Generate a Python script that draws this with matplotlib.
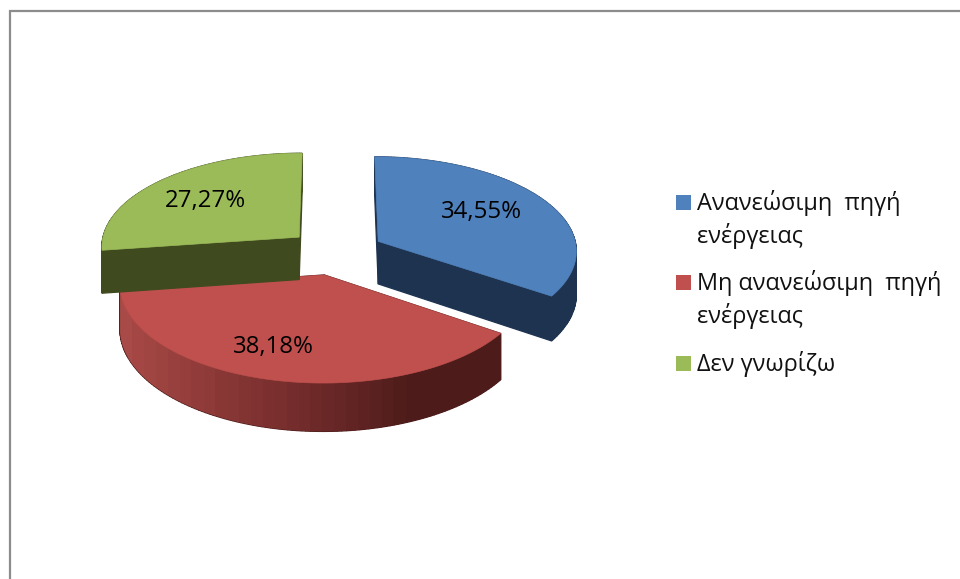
import numpy as np
import matplotlib
matplotlib.use("Agg")
import matplotlib.pyplot as plt
from matplotlib.patches import Polygon, Rectangle, PathPatch
from matplotlib.path import Path
from matplotlib.colors import LinearSegmentedColormap

categories = ["Ανανεώσιμη  πηγή\nενέργειας", "Μη ανανεώσιμη  πηγή\nενέργειας", "Δεν γνωρίζω"]
values = [34.55, 38.18, 27.27]
value_labels = ["34,55%", "38,18%", "27,27%"]
top_colors = ["#4f81bd", "#c0504d", "#9bbb59"]
wall_colors = ["#1d3350", "#4d1c1a", "#404a1f"]

CX, CY, RX, RY, K, DEPTH, EXPLODE = 335.5, 252, 199, 94, 0.09, 43, 0.245
plt.rcParams["font.family"] = ["Open Sans", "DejaVu Sans"]

fig = plt.figure(figsize=(9.6, 5.79), dpi=100)
ax = fig.add_axes([0, 0, 1, 1])
ax.set_xlim(0, 960)
ax.set_ylim(579, 0)
ax.axis("off")

frame = Polygon([(9.5, 579), (9.5, 10.5), (960, 10.5)], closed=False, fill=False,
                ec="#8c8c8c", lw=1.6)
ax.add_patch(frame)

def project(u, v, z=0.0):
    s = 1 / (1 + K * v)
    return CX + RX * u * s, CY - RY * v * s + z * DEPTH * s

edges = np.cumsum([0] + values) / sum(values) * 2 * np.pi

def wedge(i):
    a0, a1 = edges[i], edges[i + 1]
    mid = (a0 + a1) / 2
    ou, ov = EXPLODE * np.sin(mid), EXPLODE * np.cos(mid)
    t = np.linspace(a0, a1, 120)
    return ou, ov, ou + np.sin(t), ov + np.cos(t)

def draw_wedge(i, zorder):
    ou, ov, u, v = wedge(i)
    au = np.r_[ou, u, ou]
    av = np.r_[ov, v, ov]
    for j in range(len(au) - 1):
        x0, y0 = project(au[j], av[j])
        x1, y1 = project(au[j + 1], av[j + 1])
        x2, y2 = project(au[j + 1], av[j + 1], 1)
        x3, y3 = project(au[j], av[j], 1)
        ax.add_patch(Polygon([(x0, y0), (x1, y1), (x2, y2), (x3, y3)], fc=wall_colors[i],
                             ec=wall_colors[i], lw=0.9, zorder=zorder))
    if i == 1:
        xt, yt = project(u, v)
        xb, yb = project(u, v, 1)
        verts = np.r_[np.c_[xt, yt], np.c_[xb, yb][::-1], [[xt[0], yt[0]]]]
        cmap = LinearSegmentedColormap.from_list("w", ["#a84a47", "#8a3836", "#6e2a29", "#4d1c1a", "#4d1c1a"])
        grad = np.floor(np.linspace(0, 1, 400) * 32)[None, :] / 32
        im = ax.imshow(grad, extent=[xt.min(), xt.max(), yb.max() + 2, yt.min()], cmap=cmap,
                       aspect="auto", zorder=zorder + 0.1, interpolation="nearest")
        im.set_clip_path(PathPatch(Path(verts), transform=ax.transData))
        ax.set_xlim(0, 960)
        ax.set_ylim(579, 0)
    x, y = project(au, av)
    ax.add_patch(Polygon(np.c_[x, y], fc=top_colors[i], ec=top_colors[i], lw=0.5, zorder=zorder + 0.2))

for i, z in [(1, 2), (0, 3), (2, 4)]:
    draw_wedge(i, z)

label_pos = [(481, 212), (273, 347), (205, 201)]
for (x, y), s in zip(label_pos, value_labels):
    ax.text(x, y, s, ha="center", va="center", fontsize=17.3, color="black", zorder=10)

legend_y = [202.5, 282.5, 363.5]
for y, c, s in zip(legend_y, top_colors, categories):
    ax.add_patch(Rectangle((676, y - 7.5), 15, 15, fc=c, ec="none", zorder=10))
    ax.text(697, y - 12.5, s, ha="left", va="top", fontsize=16.9, color="#111111",
            linespacing=1.36, zorder=10)

fig.savefig("out.png", dpi=100)
